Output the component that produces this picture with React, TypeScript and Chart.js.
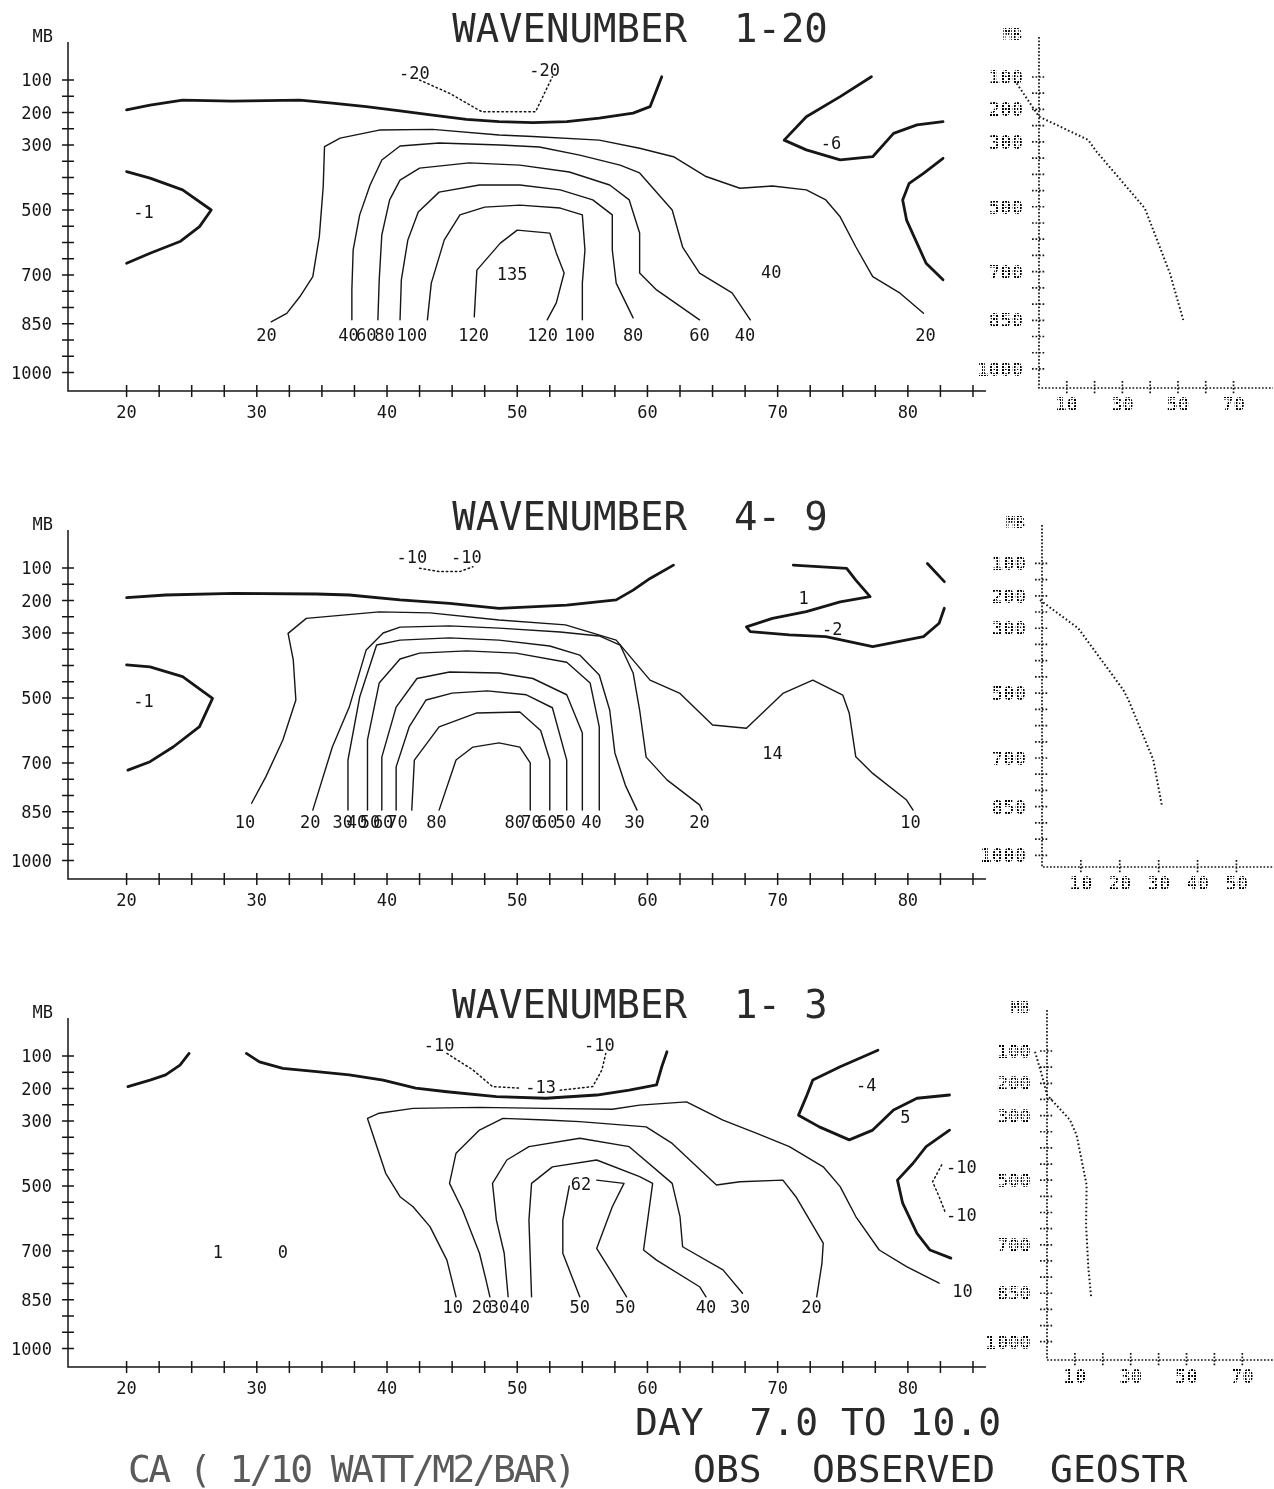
import React, { useEffect, useRef } from "react";
import { Chart, registerables } from "chart.js";

Chart.register(...registerables);

type Pt = [number, number]; // [latitude, pressure mb]
type Lbl = [number, number, string];

// ---------- WAVENUMBER 1-20 ----------
const wn120Zero: Pt[] = [[20,192],[21.8,177],[24.3,162],[28.1,165],[33.3,162],[35.8,171],[38.4,182],[41.0,195],[43.5,208],[46.1,221],[48.6,228],[51.2,231],[53.8,228],[56.3,217],[58.9,202],[60.2,182],[61.1,90]];
const wn120WestNeg: Pt[] = [[20,382],[21.8,402],[24.3,438],[26.5,500],[25.6,551],[24.1,597],[21.8,633],[20,664]];
const wn120EastHook: Pt[] = [[77.2,90],[74.8,151],[72.2,213],[70.5,285],[72.2,315],[74.8,346],[77.3,336],[78.9,264],[80.7,238],[82.7,228]];
const wn120EastArc: Pt[] = [[82.7,341],[81.2,387],[80.1,418],[79.6,469],[79.9,531],[80.7,602],[81.4,664],[82.7,715]];
const wn120Neg20: Pt[] = [[42.5,100],[44.8,141],[47.3,198],[51.4,198],[52.7,90]];
const wn120C20: Pt[] = [[31.1,844],[32.3,818],[33.3,767],[34.3,705],[34.8,582],[35.1,428],[35.2,305],[36.4,279],[39.4,254],[43.5,252],[48.6,269],[51.2,274],[56.3,285],[59.4,310],[62.0,336],[64.5,397],[67.1,433],[69.6,426],[72.2,438],[73.7,469],[74.8,521],[76.0,613],[77.3,705],[79.4,756],[81.2,818]];
const wn120C40: Pt[] = [[37.3,838],[37.3,746],[37.4,623],[37.9,515],[38.7,423],[39.6,346],[41.0,303],[44.0,294],[48.7,300],[51.7,306],[54.8,331],[57.9,362],[59.4,386],[61.9,500],[62.7,614],[64.0,694],[66.5,755],[67.9,838]];
const wn120C60: Pt[] = [[39.3,838],[39.4,715],[39.6,577],[40.2,469],[41.0,408],[42.5,371],[46.3,355],[50.2,362],[54.0,383],[57.1,423],[58.6,469],[59.4,571],[59.4,694],[60.7,746],[64.0,838]];
const wn120C80: Pt[] = [[41.0,838],[41.1,715],[41.6,592],[42.4,506],[44.0,445],[47.1,423],[50.2,423],[53.3,438],[55.8,469],[57.3,515],[57.3,623],[57.6,725],[58.9,832]];
const wn120C100: Pt[] = [[43.1,838],[43.4,725],[44.4,592],[45.6,515],[47.5,491],[50.2,485],[53.3,494],[55.0,515],[55.2,623],[55.0,725],[55.0,838]];
const wn120C120: Pt[] = [[46.7,829],[46.9,685],[48.7,602],[50.0,562],[52.5,571],[53.0,632],[53.6,694],[53.0,786],[52.3,838]];
const wn120Labels: Lbl[] = [
  [30.75,883,"20"],[37.05,883,"40"],[38.4,883,"60"],[39.8,883,"80"],[41.9,883,"100"],[46.65,883,"120"],
  [51.95,883,"120"],[54.8,883,"100"],[58.9,883,"80"],[64.0,883,"60"],[67.5,883,"40"],[81.35,883,"20"],
  [49.6,697,"135"],[69.5,691,"40"],[21.3,506,"-1"],[74.1,294,"-6"],[42.1,78,"-20"],[52.1,69,"-20"],
];

// ---------- WAVENUMBER 4-9 ----------
const wn49Zero: Pt[] = [[20,191],[23,183],[28.2,178],[34.6,180],[37.1,183],[41,198],[44.8,209],[48.6,224],[53.8,214],[57.6,198],[58.9,168],[60.2,132],[62,91]];
const wn49WestNeg: Pt[] = [[20,398],[21.8,404],[24.3,434],[26.6,501],[25.6,588],[23.6,650],[21.8,696],[20.1,722]];
const wn49EastLoop: Pt[] = [[71.2,91],[75.3,101],[76.0,137],[77.1,188],[74.8,204],[72.2,234],[69.6,255],[67.6,281],[67.9,296],[70.9,306],[73.7,311],[77.3,342],[81.2,311],[82.4,270],[82.8,224]];
const wn49EastTip: Pt[] = [[81.5,86],[82.8,142]];
const wn49Neg10: Pt[] = [[42.5,101],[44.0,111],[45.6,111],[46.6,96]];
const wn49C10: Pt[] = [[29.6,824],[30.7,742],[32,629],[33,506],[32.8,383],[32.4,301],[33.8,255],[39.4,235],[43.3,238],[48.6,260],[53.7,275],[57.6,322],[60.2,445],[62.5,486],[65,583],[67.6,593],[70.4,486],[72.7,445],[75,491],[75.5,547],[76,681],[77.3,732],[79.9,814],[80.4,845]];
const wn49C20: Pt[] = [[34.3,845],[35.8,651],[37.1,528],[38.4,352],[39.7,300],[41.0,282],[44.8,278],[48.6,285],[53.3,297],[56.3,309],[57.9,337],[58.9,423],[59.4,537],[59.9,682],[61.5,752],[64.0,829],[64.2,845]];
const wn49C30: Pt[] = [[37.0,845],[37.0,691],[37.9,497],[39.2,337],[41.0,322],[44.8,315],[48.6,322],[52.5,340],[54.8,368],[56.3,429],[57.1,537],[57.5,669],[58.3,768],[59.2,845]];
const wn49C40: Pt[] = [[38.5,845],[38.5,629],[39.4,454],[41.0,380],[42.5,362],[46.1,355],[49.9,362],[53.8,390],[55.6,454],[56.3,589],[56.3,845]];
const wn49C50: Pt[] = [[39.6,845],[39.6,682],[40.7,528],[42.3,440],[44.8,420],[48.6,423],[51.2,440],[53.8,490],[55.0,608],[55.0,845]];
const wn49C60: Pt[] = [[40.7,845],[40.7,712],[41.7,589],[43.0,506],[45.0,485],[47.7,478],[50.7,490],[52.7,530],[53.8,691],[53.8,845]];
const wn49C70: Pt[] = [[41.9,845],[42.1,691],[44.0,589],[46.9,546],[50.2,543],[51.8,600],[52.5,691],[52.5,845]];
const wn49C80: Pt[] = [[44.0,845],[45.3,691],[46.6,651],[48.6,638],[50.2,651],[51.0,700],[51.0,845]];
const wn49Labels: Lbl[] = [
  [29.1,882,"10"],[34.1,882,"20"],[36.6,882,"30"],[37.7,882,"40"],[38.7,882,"50"],[39.7,882,"60"],[40.8,882,"70"],[43.8,882,"80"],
  [49.8,882,"80"],[51.1,882,"70"],[52.3,882,"60"],[53.7,882,"50"],[55.7,882,"40"],[59.0,882,"30"],[64.0,882,"20"],[80.2,882,"10"],
  [21.3,509,"-1"],[69.6,669,"14"],[72.0,192,"1"],[74.2,288,"-2"],[41.9,66,"-10"],[46.1,66,"-10"],
];

// ---------- WAVENUMBER 1-3 ----------
const wn13ZeroWest: Pt[] = [[20.1,194],[21.8,174],[23.0,158],[24.1,128],[24.8,92]];
const wn13Zero: Pt[] = [[29.2,92],[30.2,118],[32.0,138],[34.6,148],[37.1,158],[39.7,174],[42.2,199],[44.6,210],[48.4,225],[52.2,230],[56.1,220],[58.6,205],[60.7,189],[61.1,133],[61.5,87]];
const wn13Neg10West: Pt[] = [[44.6,92],[46.6,143],[48.1,194],[50.2,199]];
const wn13Neg10East: Pt[] = [[53.3,205],[55.8,194],[56.5,143],[56.8,92]];
const wn13EastHook: Pt[] = [[77.7,82],[74.8,133],[72.7,174],[72.2,225],[71.6,282],[73.2,318],[75.5,358],[77.3,328],[78.9,266],[80.7,230],[83.2,220]];
const wn13EastArc: Pt[] = [[83.2,328],[81.4,379],[80.4,430],[79.2,482],[79.6,553],[80.7,646],[81.7,697],[83.3,722]];
const wn13EastNeg: Pt[] = [[82.6,435],[81.9,487],[82.4,533],[82.9,584]];
const wn13C10: Pt[] = [[45.3,841],[44.6,728],[43.3,625],[42.0,564],[41.0,533],[39.9,461],[38.5,292],[39.4,276],[42.0,261],[47.1,258],[52.2,261],[57.3,264],[59.4,251],[63.0,241],[65.8,297],[68.4,338],[70.9,379],[73.5,441],[74.8,502],[76.0,594],[77.8,697],[79.9,748],[82.4,799]];
const wn13C20: Pt[] = [[47.9,841],[47.6,789],[47.1,707],[45.8,574],[44.8,492],[45.3,399],[47.1,328],[48.9,292],[52.2,297],[54.8,302],[59.9,318],[61.9,369],[65.3,497],[67.1,487],[70.4,482],[71.4,533],[73.5,676],[73.4,738],[73.0,841]];
const wn13C30: Pt[] = [[49.3,841],[49.0,707],[48.4,605],[48.1,492],[49.2,420],[50.9,379],[54.8,353],[58.6,379],[61.9,492],[62.5,594],[62.7,687],[65.8,758],[67.3,830]];
const wn13C40: Pt[] = [[51.1,841],[50.9,605],[51.1,492],[52.7,441],[56.1,420],[59.4,471],[60.4,492],[59.7,697],[60.7,728],[64.0,810],[64.5,841]];
const wn13C50West: Pt[] = [[54.8,841],[53.5,707],[53.5,605],[54.0,500]];
const wn13C50East: Pt[] = [[56.1,482],[58.2,492],[57.3,564],[56.1,692],[57.3,769],[58.4,841]];
const wn13Labels: Lbl[] = [
  [45.05,872,"10"],[47.3,872,"20"],[48.6,872,"30"],[50.2,872,"40"],[54.8,872,"50"],[58.3,872,"50"],
  [64.5,872,"40"],[67.1,872,"30"],[72.6,872,"20"],[84.2,823,"10"],
  [54.9,494,"62"],[51.8,195,"-13"],[44.0,66,"-10"],[56.3,66,"-10"],[76.8,189,"-4"],[79.8,288,"5"],
  [84.1,442,"-10"],[84.1,589,"-10"],[27.0,703,"1"],[32.0,703,"0"],
];

// ---------- observed geostrophic profiles (side panels) ----------
const profile120: Pt[] = [[-8,120],[0,222],[17.7,294],[20.7,330],[38.1,505],[47.1,705],[51.9,849]];
const profile49: Pt[] = [[-4.8,100],[-0.5,213],[1.7,233],[9.3,300],[20.9,490],[22.2,520],[28.6,705],[30.8,845]];
const profile13: Pt[] = [[-4.3,102],[-1.8,176],[0,236],[8.2,313],[10.6,360],[14.2,515],[14.0,640],[14.8,770],[15.8,860]];

// ---------- axes ----------
const PRESSURE_TICKS = [100,150,200,250,300,350,400,450,500,550,600,650,700,750,800,850,900,950,1000];
const PRESSURE_LABELS = [100,200,300,500,700,850,1000];
const LAT_TICKS = [20,22.5,25,27.5,30,32.5,35,37.5,40,42.5,45,47.5,50,52.5,55,57.5,60,62.5,65,67.5,70,72.5,75,77.5,80,82.5,85];
const LAT_LABELS = [20,30,40,50,60,70,80];
const SIDE_TICKS_WIDE = [10,20,30,40,50,60,70];
const SIDE_LABELS_WIDE = [10,30,50,70];
const SIDE_TICKS_NARROW = [10,20,30,40,50];
const SIDE_LABELS_NARROW = [10,20,30,40,50];

const INK = "#161616";
const MONO = "'DejaVu Sans Mono', 'Liberation Mono', monospace";

type Kind = "zero" | "thin" | "dots";
type Line = { pts: Pt[]; kind: Kind };

const STYLE: Record<Kind, { width: number; dash: number[] }> = {
  zero: { width: 2.8, dash: [] },
  thin: { width: 1.4, dash: [] },
  dots: { width: 1.5, dash: [1.5, 3] },
};

type MainPanel = {
  top: number;
  height: number;
  title: string;
  lines: Line[];
  labels: Lbl[];
  footer?: boolean;
};

const MAIN_PANELS: MainPanel[] = [
  {
    top: 0, height: 488, title: "WAVENUMBER  1-20", labels: wn120Labels,
    lines: [
      { pts: wn120Zero, kind: "zero" }, { pts: wn120WestNeg, kind: "zero" }, { pts: wn120EastHook, kind: "zero" },
      { pts: wn120EastArc, kind: "zero" }, { pts: wn120Neg20, kind: "dots" },
      { pts: wn120C20, kind: "thin" }, { pts: wn120C40, kind: "thin" }, { pts: wn120C60, kind: "thin" },
      { pts: wn120C80, kind: "thin" }, { pts: wn120C100, kind: "thin" }, { pts: wn120C120, kind: "thin" },
    ],
  },
  {
    top: 488, height: 488, title: "WAVENUMBER  4- 9", labels: wn49Labels,
    lines: [
      { pts: wn49Zero, kind: "zero" }, { pts: wn49WestNeg, kind: "zero" }, { pts: wn49EastLoop, kind: "zero" },
      { pts: wn49EastTip, kind: "zero" }, { pts: wn49Neg10, kind: "dots" },
      { pts: wn49C10, kind: "thin" }, { pts: wn49C20, kind: "thin" }, { pts: wn49C30, kind: "thin" },
      { pts: wn49C40, kind: "thin" }, { pts: wn49C50, kind: "thin" }, { pts: wn49C60, kind: "thin" },
      { pts: wn49C70, kind: "thin" }, { pts: wn49C80, kind: "thin" },
    ],
  },
  {
    top: 976, height: 513, title: "WAVENUMBER  1- 3", labels: wn13Labels, footer: true,
    lines: [
      { pts: wn13ZeroWest, kind: "zero" }, { pts: wn13Zero, kind: "zero" }, { pts: wn13EastHook, kind: "zero" },
      { pts: wn13EastArc, kind: "zero" }, { pts: wn13Neg10West, kind: "dots" }, { pts: wn13Neg10East, kind: "dots" },
      { pts: wn13EastNeg, kind: "dots" },
      { pts: wn13C10, kind: "thin" }, { pts: wn13C20, kind: "thin" }, { pts: wn13C30, kind: "thin" },
      { pts: wn13C40, kind: "thin" }, { pts: wn13C50West, kind: "thin" }, { pts: wn13C50East, kind: "thin" },
    ],
  },
];

type SidePanel = {
  top: number;
  height: number;
  pad: { left: number; right: number; top: number; bottom: number };
  xMax: number;
  yMin: number;
  yMax: number;
  ticks: number[];
  tickLabels: number[];
  pts: Pt[];
};

const SIDE_PANELS: SidePanel[] = [
  { top: 0, height: 488, pad: { left: 79, right: 1, top: 37, bottom: 100 }, xMax: 84.2, yMin: -23.3, yMax: 1058.7,
    ticks: SIDE_TICKS_WIDE, tickLabels: SIDE_LABELS_WIDE, pts: profile120 },
  { top: 488, height: 488, pad: { left: 82, right: 1, top: 37, bottom: 109 }, xMax: 59.4, yMin: -18.2, yMax: 1036,
    ticks: SIDE_TICKS_NARROW, tickLabels: SIDE_LABELS_NARROW, pts: profile49 },
  { top: 976, height: 488, pad: { left: 87, right: 1, top: 34, bottom: 104 }, xMax: 81, yMin: -27, yMax: 1056.7,
    ticks: SIDE_TICKS_WIDE, tickLabels: SIDE_LABELS_WIDE, pts: profile13 },
];

function centred(ctx: CanvasRenderingContext2D, s: string, x: number, yMid: number, size: number) {
  ctx.fillText(s, x, yMid + 0.365 * size);
}

function mainFrame(panel: MainPanel) {
  return {
    id: "mainFrame",
    afterDatasetsDraw(chart: any) {
      const { ctx, chartArea: a, scales } = chart;
      const xs = scales.x;
      const ys = scales.y;
      ctx.save();
      ctx.strokeStyle = INK;
      ctx.fillStyle = INK;
      ctx.lineWidth = 1.5;
      ctx.setLineDash([]);
      ctx.beginPath();
      ctx.moveTo(a.left, a.top);
      ctx.lineTo(a.left, a.bottom);
      ctx.lineTo(a.right, a.bottom);
      for (const p of PRESSURE_TICKS) {
        const y = ys.getPixelForValue(p);
        ctx.moveTo(a.left - 6, y);
        ctx.lineTo(a.left + 6, y);
      }
      for (const lat of LAT_TICKS) {
        const x = xs.getPixelForValue(lat);
        ctx.moveTo(x, a.bottom - 6);
        ctx.lineTo(x, a.bottom + 6);
      }
      ctx.stroke();

      ctx.font = `17px ${MONO}`;
      ctx.textAlign = "right";
      for (const p of PRESSURE_LABELS) centred(ctx, String(p), a.left - 16, ys.getPixelForValue(p), 17);
      centred(ctx, "MB", a.left - 15, a.top - 5, 15);
      ctx.textAlign = "center";
      for (const lat of LAT_LABELS) centred(ctx, String(lat), xs.getPixelForValue(lat), a.bottom + 21, 17);

      ctx.font = `17px ${MONO}`;
      for (const [lat, p, s] of panel.labels) centred(ctx, s, xs.getPixelForValue(lat), ys.getPixelForValue(p), 17);

      ctx.fillStyle = "#2a2a2a";
      ctx.font = `39px ${MONO}`;
      ctx.textAlign = "center";
      ctx.fillText(panel.title, 640, 42);

      if (panel.footer) {
        ctx.textAlign = "left";
        ctx.font = `38px ${MONO}`;
        ctx.fillText("DAY  7.0 TO 10.0", 635, 459);
        ctx.fillText("OBS", 693, 506);
        ctx.fillText("OBSERVED", 812, 506);
        ctx.fillText("GEOSTR", 1050, 506);
        (ctx as any).letterSpacing = "-2.6px";
        ctx.fillStyle = "#5a5a5a";
        ctx.fillText("CA ( 1/10 WATT/M2/BAR)", 128, 506);
      }
      ctx.restore();
    },
  };
}

let dotPattern: CanvasPattern | null = null;
function getDots(ctx: CanvasRenderingContext2D) {
  if (!dotPattern) {
    const tile = document.createElement("canvas");
    tile.width = 3;
    tile.height = 3;
    const t = tile.getContext("2d")!;
    t.fillStyle = "#000";
    t.fillRect(0, 0, 2, 2);
    dotPattern = ctx.createPattern(tile, "repeat");
  }
  return dotPattern!;
}

function sideFrame(panel: SidePanel) {
  return {
    id: "sideFrame",
    afterDatasetsDraw(chart: any) {
      const { ctx, chartArea: a, scales } = chart;
      const xs = scales.x;
      const ys = scales.y;
      ctx.save();
      ctx.strokeStyle = INK;
      ctx.lineWidth = 1.7;
      ctx.setLineDash([1.7, 1.8]);
      ctx.beginPath();
      ctx.moveTo(a.left, a.top);
      ctx.lineTo(a.left, a.bottom);
      ctx.lineTo(a.right, a.bottom);
      for (const p of PRESSURE_TICKS) {
        const y = ys.getPixelForValue(p);
        ctx.moveTo(a.left - 7, y);
        ctx.lineTo(a.left + 7, y);
      }
      for (const v of panel.ticks) {
        const x = xs.getPixelForValue(v);
        ctx.moveTo(x, a.bottom - 7);
        ctx.lineTo(x, a.bottom + 7);
      }
      ctx.stroke();

      ctx.fillStyle = getDots(ctx);
      ctx.font = `bold 19px ${MONO}`;
      ctx.textAlign = "right";
      for (const p of PRESSURE_LABELS) centred(ctx, String(p), a.left - 16, ys.getPixelForValue(p), 19);
      ctx.font = `bold 16px ${MONO}`;
      centred(ctx, "MB", a.left - 17, a.top - 3, 16);
      ctx.font = `bold 19px ${MONO}`;
      ctx.textAlign = "center";
      for (const v of panel.tickLabels) centred(ctx, String(v), xs.getPixelForValue(v), a.bottom + 16, 19);
      ctx.restore();
    },
  };
}

function mainConfig(panel: MainPanel): any {
  return {
    type: "scatter",
    data: {
      datasets: panel.lines.map((l) => ({
        data: l.pts.map(([x, y]) => ({ x, y })),
        showLine: true,
        pointRadius: 0,
        borderColor: INK,
        borderWidth: STYLE[l.kind].width,
        borderDash: STYLE[l.kind].dash,
        borderCapStyle: "round",
        borderJoinStyle: "round",
        tension: 0,
        fill: false,
        clip: false,
      })),
    },
    options: {
      animation: false,
      responsive: false,
      devicePixelRatio: 1,
      events: [],
      layout: { padding: { left: 68, right: 1274 - 986, top: 42, bottom: panel.height - 391 } },
      plugins: { legend: { display: false }, tooltip: { enabled: false }, title: { display: false } },
      scales: {
        x: { type: "linear", display: false, min: 15.5, max: 86 },
        y: { type: "linear", display: false, min: -17, max: 1057, reverse: true },
      },
    },
    plugins: [mainFrame(panel)],
  };
}

function sideConfig(panel: SidePanel): any {
  return {
    type: "scatter",
    data: {
      datasets: [
        {
          data: panel.pts.map(([x, y]) => ({ x, y })),
          showLine: true,
          pointRadius: 0,
          borderColor: INK,
          borderWidth: 2,
          borderDash: [1.6, 2.4],
          tension: 0,
          fill: false,
          clip: false,
        },
      ],
    },
    options: {
      animation: false,
      responsive: false,
      devicePixelRatio: 1,
      events: [],
      layout: { padding: panel.pad },
      plugins: { legend: { display: false }, tooltip: { enabled: false }, title: { display: false } },
      scales: {
        x: { type: "linear", display: false, min: 0, max: panel.xMax },
        y: { type: "linear", display: false, min: panel.yMin, max: panel.yMax, reverse: true },
      },
    },
    plugins: [sideFrame(panel)],
  };
}

function ChartCanvas(props: { left: number; top: number; width: number; height: number; build: () => any }) {
  const ref = useRef<HTMLCanvasElement>(null);
  useEffect(() => {
    const chart = new Chart(ref.current!, props.build());
    return () => chart.destroy();
  }, []);
  return (
    <canvas
      ref={ref}
      width={props.width}
      height={props.height}
      style={{ position: "absolute", left: props.left, top: props.top, width: props.width, height: props.height }}
    />
  );
}

export default function App() {
  return (
    <div style={{ position: "absolute", left: 0, top: 0, width: 1274, height: 1489, background: "#fff", overflow: "hidden" }}>
      {MAIN_PANELS.map((p, i) => (
        <ChartCanvas key={"main" + i} left={0} top={p.top} width={1274} height={p.height} build={() => mainConfig(p)} />
      ))}
      {SIDE_PANELS.map((p, i) => (
        <ChartCanvas key={"side" + i} left={960} top={p.top} width={314} height={p.height} build={() => sideConfig(p)} />
      ))}
    </div>
  );
}
